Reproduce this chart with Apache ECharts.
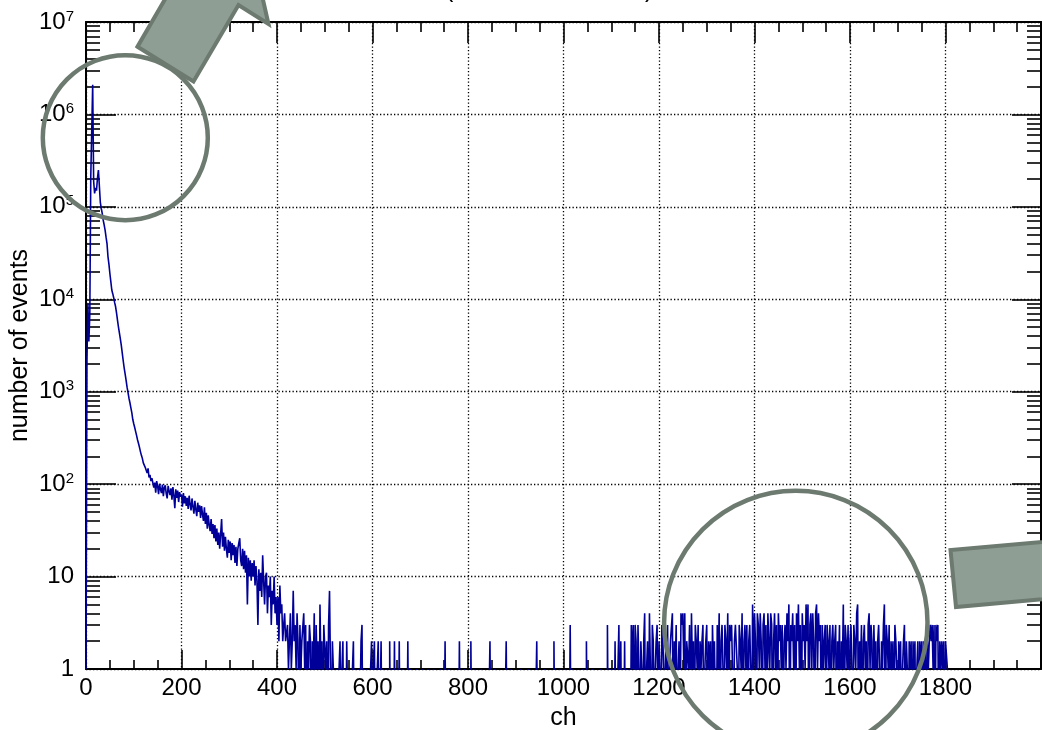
<!DOCTYPE html>
<html><head><meta charset="utf-8">
<script src="https://cdn.jsdelivr.net/npm/echarts@6/dist/echarts.min.js"></script>
<style>html,body{margin:0;padding:0;background:#fff;}#c{width:1042px;height:730px;}</style>
</head><body><div id="c"></div>
<script>
// ---- data (bin width in channels; counts per bin) ----
const binWidthCh = 2;
const xAxisTitle = 'ch';
const yAxisTitle = 'number of events';
const xMin = 0, xMax = 2000, xStep = 200;
const yMin = 1, yMax = 1e7;

// bins 0-69 (ch 0-140): low-channel peak and steep decay
const headCounts = [
  1, 2200, 9000, 3500, 7000, 210000, 200000, 2100000, 190000, 140000,
  160000, 150000, 205000, 250000, 240000, 112000, 96000, 85000, 72000, 64000,
  56000, 47000, 40000, 29000, 24000, 19000, 15500, 12600, 11500, 10400,
  9200, 8300, 7100, 5900, 5000, 4300, 3700, 3150, 2600, 2150,
  1800, 1550, 1330, 1120, 980, 850, 760, 670, 590, 500,
  450, 410, 370, 335, 300, 275, 250, 225, 205, 190,
  170, 168, 152, 150, 132, 148, 118, 126, 108, 116
];
// bins 70-209 (ch 140-420): slow exponential tail
const plateauCounts = [
  112, 92, 104, 81, 108, 95, 78, 101, 88, 80,
  99, 74, 92, 97, 79, 70, 96, 84, 76, 90,
  68, 93, 75, 55, 88, 71, 85, 64, 82, 73,
  77, 57, 80, 62, 74, 58, 71, 54, 75, 60,
  52, 70, 57, 48, 66, 53, 45, 63, 50, 59,
  43, 58, 47, 40, 56, 37, 49, 33, 46, 36,
  31, 42, 29, 37, 26, 36, 24, 33, 22, 30,
  20, 29, 42, 21, 30, 19, 27, 20, 16, 25,
  18, 24, 15, 23, 17, 22, 14, 21, 13, 20,
  23, 26, 15, 13, 20, 12, 19, 11, 17, 5,
  16, 10, 15, 9, 14, 10, 15, 8, 13, 9,
  3, 12, 7, 11, 6, 17, 9, 5, 10, 11,
  4, 8, 6, 10, 3, 7, 5, 10, 4, 6,
  3, 6, 2, 8, 4, 5, 2, 3, 4, 2
];
// bins 210-904 (ch 420-1810): sparse counts
const tailCounts = [
  2,3,1,2,4,1,2,7,2,3, 1,4,2,0,3,1,2,2,4,1, 3,0,2,1,3,2,0,2,1,4, 0,3,1,2,0,5,1,2,0,3,
  3,1,2,0,3,7,1,0,2,1, 1,0,1,0,0,1,2,0,1,2, 0,1,0,2,2,0,1,0,0,1, 2,0,1,0,0,1,0,0,2,3,
  0,1,0,0,1,0,0,0,1,2, 0,1,2,0,0,1,2,0,0,2, 0,1,0,0,1,0,0,0,2,0, 0,1,0,2,0,0,1,0,2,0,
  0,0,1,0,0,0,0,2,0,0, 1,0,0,0,0,0,1,0,0,0, 0,0,1,0,0,0,0,0,1,0, 0,0,0,0,1,0,0,0,0,0,
  0,1,0,0,0,0,2,0,0,0, 1,0,0,0,0,0,0,0,0,0, 0,2,0,0,0,0,1,0,0,0, 0,0,0,2,0,0,1,0,0,0,
  0,0,0,0,1,0,0,0,0,0, 0,0,0,2,0,0,0,0,1,0, 0,0,0,0,0,0,0,0,0,0, 2,0,0,0,0,1,0,0,0,0,
  0,0,0,0,0,1,0,0,0,0, 0,0,0,1,0,0,0,0,0,0, 0,0,2,0,0,0,0,0,0,0, 1,0,0,0,0,0,0,0,0,0,
  2,0,0,0,0,0,1,0,0,0, 0,0,1,0,0,0,0,3,0,0, 1,0,0,0,0,0,0,0,0,0, 1,0,0,0,2,0,0,0,0,0,
  1,0,0,0,0,0,0,0,0,1, 0,0,0,0,0,0,3,0,0,1, 0,0,1,0,2,0,0,1,3,0, 2,0,1,0,2,0,1,0,0,1,
  0,3,1,3,0,3,2,0,3,1, 0,2,1,0,2,4,0,1,2,0, 4,1,0,3,2,0,1,2,3,0, 2,1,0,3,2,1,0,2,1,3,
  0,1,2,2,4,0,2,1,3,0, 1,2,0,4,3,4,1,4,0,2, 2,1,3,0,4,1,2,0,3,2, 1,3,0,2,1,2,3,0,1,2,
  3,0,2,1,2,0,3,1,2,2, 0,3,1,4,0,2,3,1,0,3, 2,1,4,0,3,2,3,1,0,2, 3,3,1,0,3,2,1,4,0,2,
  3,1,3,0,2,3,1,0,5,1, 4,2,0,4,3,1,4,2,0,3, 4,1,3,0,4,2,1,4,3,0, 2,4,1,3,0,4,2,3,1,3,
  0,2,3,1,4,2,5,0,3,2, 4,1,3,0,4,2,5,1,3,0, 4,2,3,1,5,2,5,0,3,4, 1,4,2,0,4,5,1,4,2,3,
  0,3,1,2,3,0,3,2,1,3, 0,2,3,1,2,3,0,2,1,3, 0,2,1,5,0,3,2,1,3,0, 2,3,1,0,3,2,1,4,5,0,
  2,1,3,0,2,3,1,2,0,3, 4,1,3,2,0,3,1,2,0,2, 3,1,0,2,1,3,5,0,3,2, 1,3,0,2,1,2,0,3,2,1,
  0,2,1,2,0,1,2,3,0,2, 1,0,2,1,2,0,2,1,2,0, 1,2,0,2,1,2,0,2,1,2, 0,2,1,2,3,2,3,1,3,0,
  3,2,3,0,2,1,2,1,2,0, 2,2,1,0,0
];

// ---- build histogram step data ----
const counts = headCounts.concat(plateauCounts, tailCounts);
const ZERO_ON_LOG = 0.1; // empty bins drawn below the axis (clipped)
const histData = counts.map((c, i) => [i * binWidthCh, c > 0 ? c : ZERO_ON_LOG]);
histData.push([counts.length * binWidthCh, ZERO_ON_LOG]);

const FONT = 'Liberation Sans, Arial, Helvetica, sans-serif';
const BLACK = '#000';
const dotted = { color: BLACK, width: 1.3, type: [1.3, 2.2] };

function yLabel(v) {
  const e = Math.round(Math.log10(v));
  if (e === 0) return '{b|1}';
  if (e === 1) return '{b|10}';
  return '{b|10}{s|' + e + '}';
}
const yRich = {
  b: { fontSize: 24, fontFamily: FONT, color: BLACK, lineHeight: 26, verticalAlign: 'middle' },
  s: { fontSize: 15, fontFamily: FONT, color: BLACK, lineHeight: 14, verticalAlign: 'top' }
};

const chart = echarts.init(document.getElementById('c'), null, { renderer: 'canvas' });
chart.setOption({
  animation: false,
  backgroundColor: '#fff',
  grid: { left: 86, right: 1, top: 22, bottom: 61, containLabel: false, outerBoundsMode: 'none' },
  xAxis: [
    {
      type: 'value', position: 'bottom', min: xMin, max: xMax, interval: xStep,
      name: xAxisTitle, nameLocation: 'middle', nameGap: 37, nameMoveOverlap: false,
      nameTextStyle: { fontSize: 25, fontFamily: FONT, color: BLACK },
      axisLine: { show: true, onZero: false, lineStyle: { color: BLACK, width: 2 } },
      axisTick: { show: true, inside: true, length: 19, lineStyle: { color: BLACK, width: 1.6 } },
      minorTick: { show: true, splitNumber: 4, length: 9, lineStyle: { color: BLACK, width: 1.6 } },
      axisLabel: { show: true, margin: 7, fontSize: 24, fontFamily: FONT, color: BLACK,
        showMaxLabel: false, formatter: v => (v >= xMax ? '' : String(v)) },
      splitLine: { show: true, lineStyle: dotted }
    },
    {
      type: 'value', position: 'top', min: xMin, max: xMax, interval: xStep,
      axisLine: { show: true, onZero: false, lineStyle: { color: BLACK, width: 2 } },
      axisTick: { show: true, inside: true, length: 21, lineStyle: { color: BLACK, width: 1.6 } },
      minorTick: { show: true, splitNumber: 4, length: 10, lineStyle: { color: BLACK, width: 1.6 } },
      axisLabel: { show: false }, splitLine: { show: false }
    }
  ],
  yAxis: [
    {
      type: 'log', logBase: 10, position: 'left', min: yMin, max: yMax,
      name: yAxisTitle, nameLocation: 'middle', nameGap: 53, nameRotate: 90, nameMoveOverlap: false,
      nameTextStyle: { fontSize: 25, fontFamily: FONT, color: BLACK },
      axisLine: { show: true, onZero: false, lineStyle: { color: BLACK, width: 2 } },
      axisTick: { show: true, inside: true, length: 30, lineStyle: { color: BLACK, width: 1.6 } },
      minorTick: { show: true, splitNumber: 9, length: 14, lineStyle: { color: BLACK, width: 1.6 } },
      axisLabel: { show: true, margin: 12, formatter: yLabel, rich: yRich },
      splitLine: { show: true, lineStyle: dotted }
    },
    {
      type: 'log', logBase: 10, position: 'right', min: yMin, max: yMax,
      axisLine: { show: true, onZero: false, lineStyle: { color: BLACK, width: 2 } },
      axisTick: { show: true, inside: true, length: 29, lineStyle: { color: BLACK, width: 1.6 } },
      minorTick: { show: true, splitNumber: 9, length: 14, lineStyle: { color: BLACK, width: 1.6 } },
      axisLabel: { show: false }, splitLine: { show: false }
    }
  ],
  series: [{
    type: 'line', xAxisIndex: 0, yAxisIndex: 0, data: histData,
    step: 'end', showSymbol: false, symbol: 'none', clip: true, z: 3,
    lineStyle: { color: '#000099', width: 1.6 }, itemStyle: { color: '#000099' },
    emphasis: { disabled: true }, silent: true
  }],
  graphic: [
    { type: 'text', z: 50, left: 445, top: -22, style: { text: '(', font: '25px ' + FONT, fill: BLACK } },
    { type: 'text', z: 50, left: 645, top: -22, style: { text: ')', font: '25px ' + FONT, fill: BLACK } },
    { type: 'circle', z: 100, shape: { cx: 125.3, cy: 137.7, r: 82.5 },
      style: { fill: 'none', stroke: '#6c7a70', lineWidth: 4.5 } },
    { type: 'circle', z: 100, shape: { cx: 795.8, cy: 622.5, r: 131.7 },
      style: { fill: 'none', stroke: '#6c7a70', lineWidth: 4.5 } },
    { type: 'polygon', z: 101,
      shape: { points: [[137.5, 46.7], [193.5, 81.5], [238.5, 5], [268.5, 24], [246, -75], [151, -48], [182, -30]] },
      style: { fill: '#8f9e94', stroke: '#6c7a70', lineWidth: 4, lineJoin: 'miter' } },
    { type: 'polygon', z: 101,
      shape: { points: [[950.5, 550], [956, 607], [1100, 594], [1100, 537]] },
      style: { fill: '#8f9e94', stroke: '#6c7a70', lineWidth: 4, lineJoin: 'miter' } }
  ]
});
</script></body></html>
